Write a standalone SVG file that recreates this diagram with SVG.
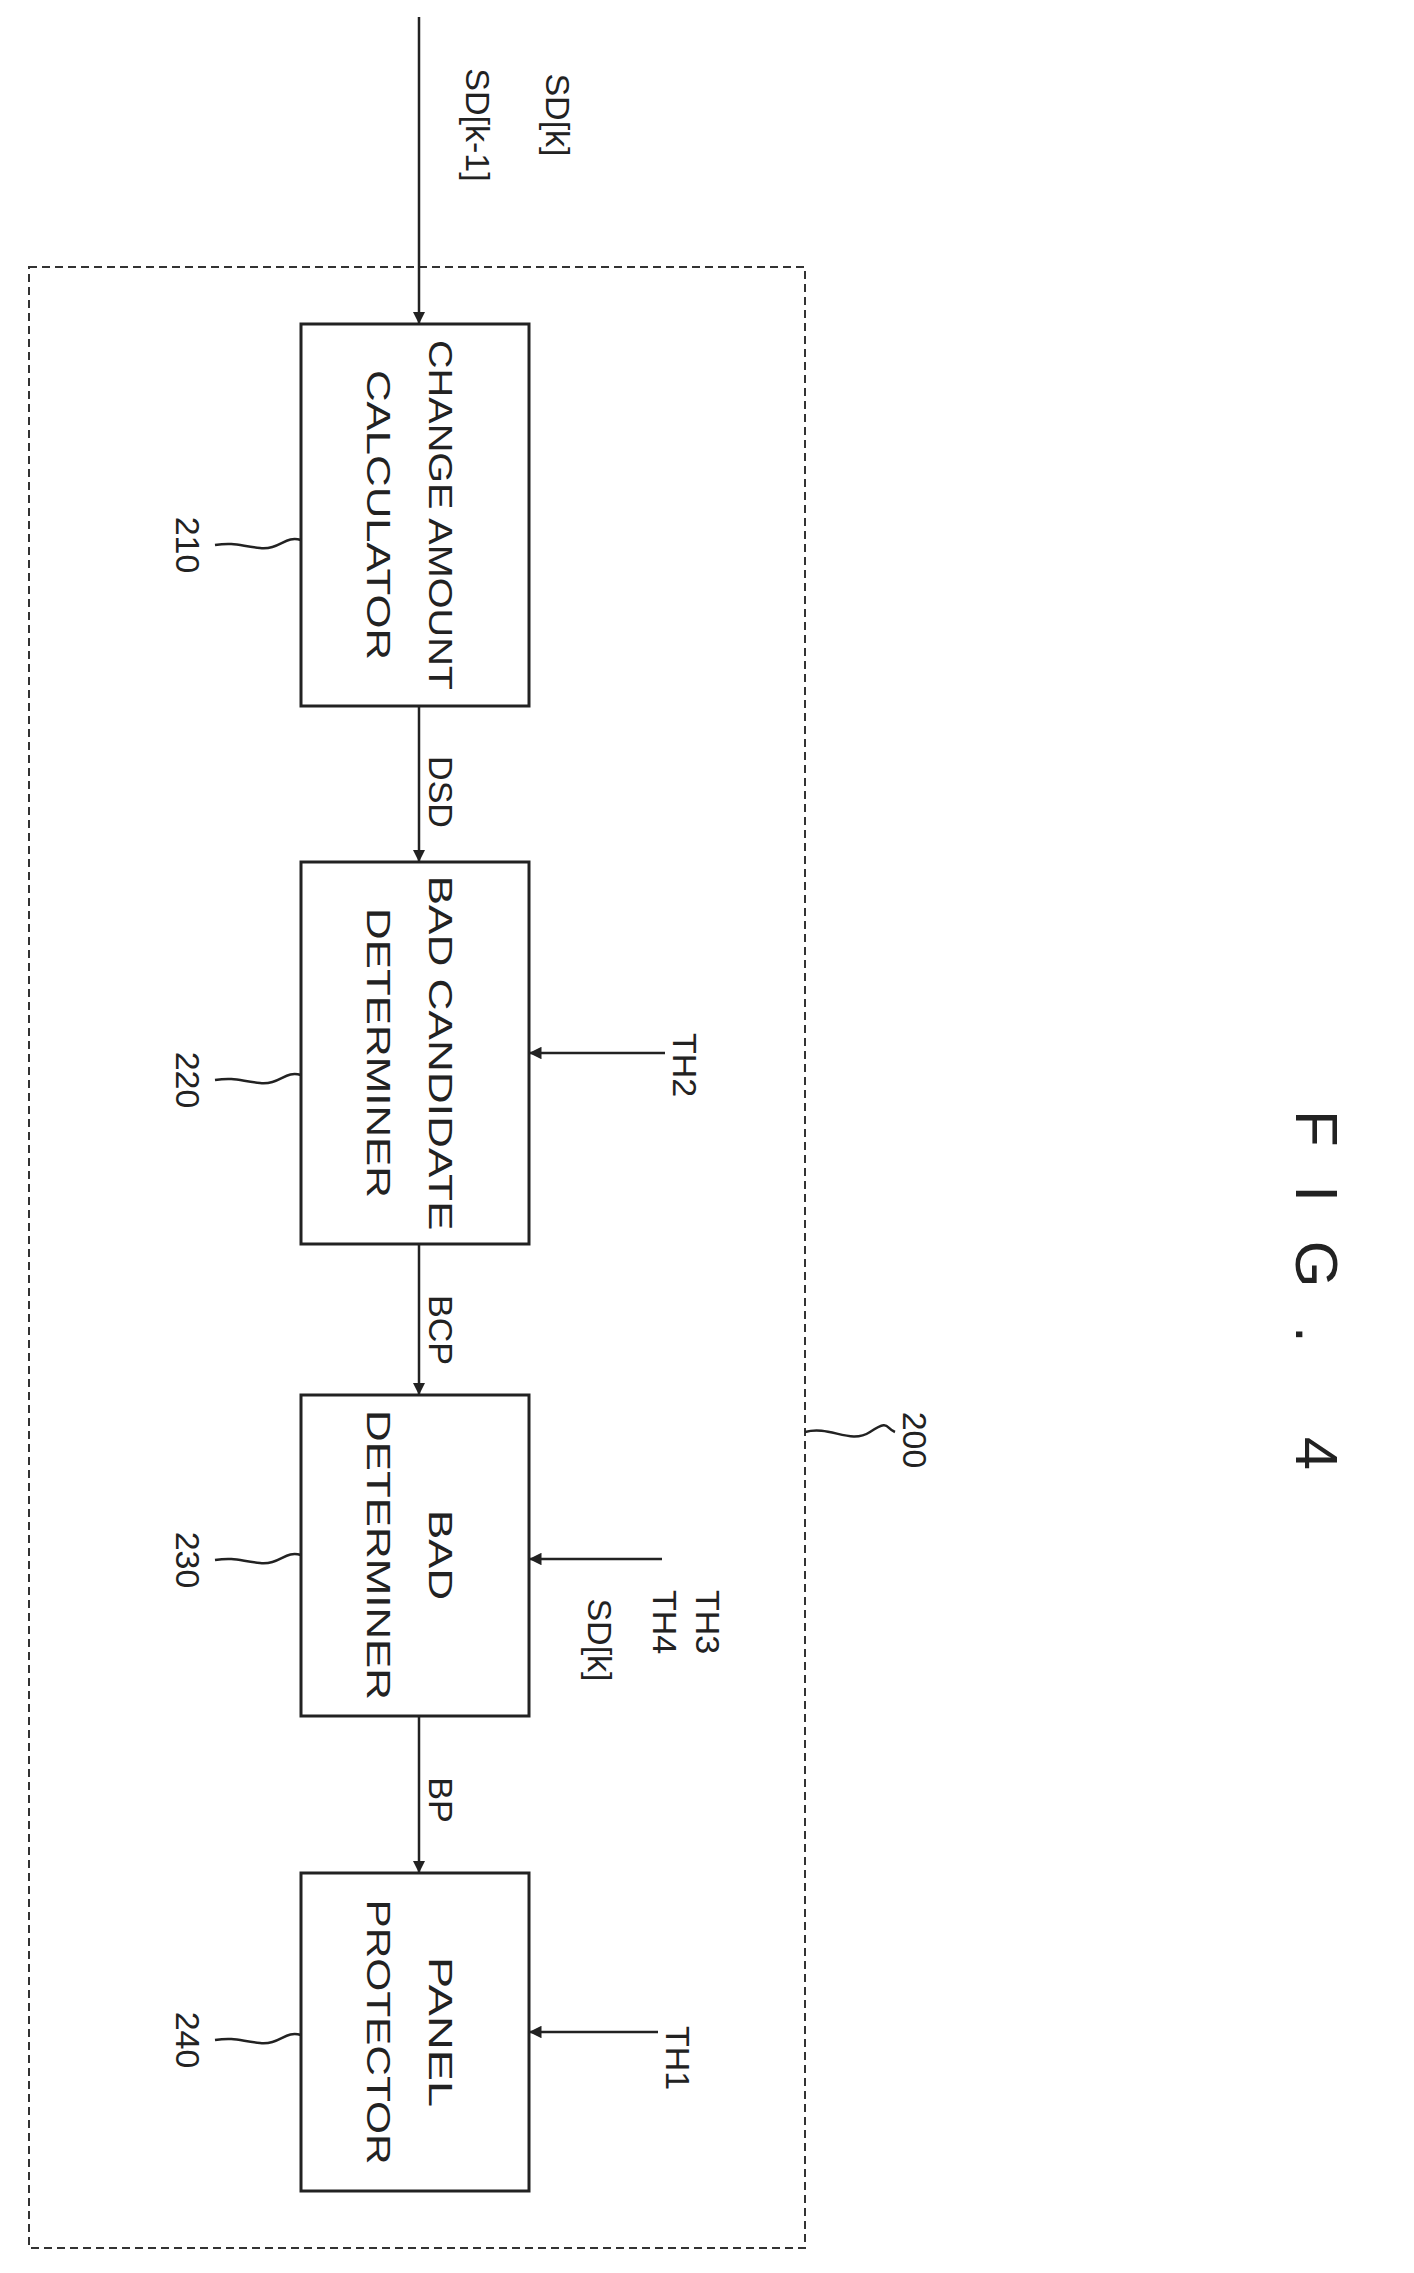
<svg xmlns="http://www.w3.org/2000/svg" width="1414" height="2273" viewBox="0 0 1414 2273">
<style>
.b{fill:none;stroke:#222;stroke-width:3}
.o{fill:none;stroke:#333;stroke-width:2;stroke-dasharray:8 5}
.l{fill:none;stroke:#222;stroke-width:2.5}
text{font-family:"Liberation Sans",Arial,sans-serif;fill:#222;font-size:34px;text-anchor:middle;dominant-baseline:central}
</style>
<defs><marker id="a" viewBox="0 0 10 10" refX="10" refY="5" markerWidth="5" markerHeight="5" orient="auto"><path d="M0,0L10,5L0,10z" fill="#222"/></marker></defs>
<rect x="0" y="0" width="1414" height="2273" fill="#fff"/>
<g id="n200"><rect class="o" x="29" y="267" width="776" height="1981"/>
<path class="l" d="M805,1432 C830,1425 850,1445 870,1432 S885,1428 895,1432"/>
<text transform="translate(915,1440) rotate(90)">200</text></g>
<g id="n210"><rect class="b" x="301" y="324" width="228" height="382"/>
<text transform="translate(441,515) rotate(90)" textLength="350" lengthAdjust="spacingAndGlyphs">CHANGE  AMOUNT</text>
<text transform="translate(379,515) rotate(90)" textLength="290" lengthAdjust="spacingAndGlyphs">CALCULATOR</text>
<path class="l" d="M301,540 C285,535 280,550 260,548 S235,542 215,545"/>
<text transform="translate(188,545) rotate(90)">210</text></g>
<g id="n220"><rect class="b" x="301" y="862" width="228" height="382"/>
<text transform="translate(441,1053) rotate(90)" textLength="355" lengthAdjust="spacingAndGlyphs">BAD  CANDIDATE</text>
<text transform="translate(379,1053) rotate(90)" textLength="290" lengthAdjust="spacingAndGlyphs">DETERMINER</text>
<path class="l" d="M301,1075 C285,1070 280,1085 260,1083 S235,1077 215,1080"/>
<text transform="translate(188,1080) rotate(90)">220</text></g>
<g id="n230"><rect class="b" x="301" y="1395" width="228" height="321"/>
<text transform="translate(441,1555) rotate(90)" textLength="90" lengthAdjust="spacingAndGlyphs">BAD</text>
<text transform="translate(379,1555) rotate(90)" textLength="290" lengthAdjust="spacingAndGlyphs">DETERMINER</text>
<path class="l" d="M301,1555 C285,1550 280,1565 260,1563 S235,1557 215,1560"/>
<text transform="translate(188,1560) rotate(90)">230</text></g>
<g id="n240"><rect class="b" x="301" y="1873" width="228" height="318"/>
<text transform="translate(441,2032) rotate(90)" textLength="150" lengthAdjust="spacingAndGlyphs">PANEL</text>
<text transform="translate(379,2032) rotate(90)" textLength="265" lengthAdjust="spacingAndGlyphs">PROTECTOR</text>
<path class="l" d="M301,2035 C285,2030 280,2045 260,2043 S235,2037 215,2040"/>
<text transform="translate(188,2040) rotate(90)">240</text></g>
<g id="connectors">
<path class="l" marker-end="url(#a)" d="M419,17V324"/>
<path class="l" marker-end="url(#a)" d="M419,706V862"/>
<path class="l" marker-end="url(#a)" d="M419,1244V1395"/>
<path class="l" marker-end="url(#a)" d="M419,1716V1873"/>
<path class="l" marker-end="url(#a)" d="M665,1053H529"/>
<path class="l" marker-end="url(#a)" d="M662,1559H529"/>
<path class="l" marker-end="url(#a)" d="M658,2032H529"/>
</g>
<g id="labels">
<text transform="translate(558,115) rotate(90)">SD[k]</text>
<text transform="translate(478,125) rotate(90)">SD[k-1]</text>
<text transform="translate(441,792) rotate(90)">DSD</text>
<text transform="translate(441,1330) rotate(90)">BCP</text>
<text transform="translate(441,1800) rotate(90)">BP</text>
<text transform="translate(685,1065) rotate(90)">TH2</text>
<text transform="translate(708,1622) rotate(90)">TH3</text>
<text transform="translate(665,1622) rotate(90)">TH4</text>
<text transform="translate(600,1640) rotate(90)">SD[k]</text>
<text transform="translate(678,2058) rotate(90)">TH1</text>
<text transform="translate(1316,1290) rotate(90)" style="font-size:60px" textLength="360" lengthAdjust="spacing">FIG. 4</text>
</g>
</svg>
